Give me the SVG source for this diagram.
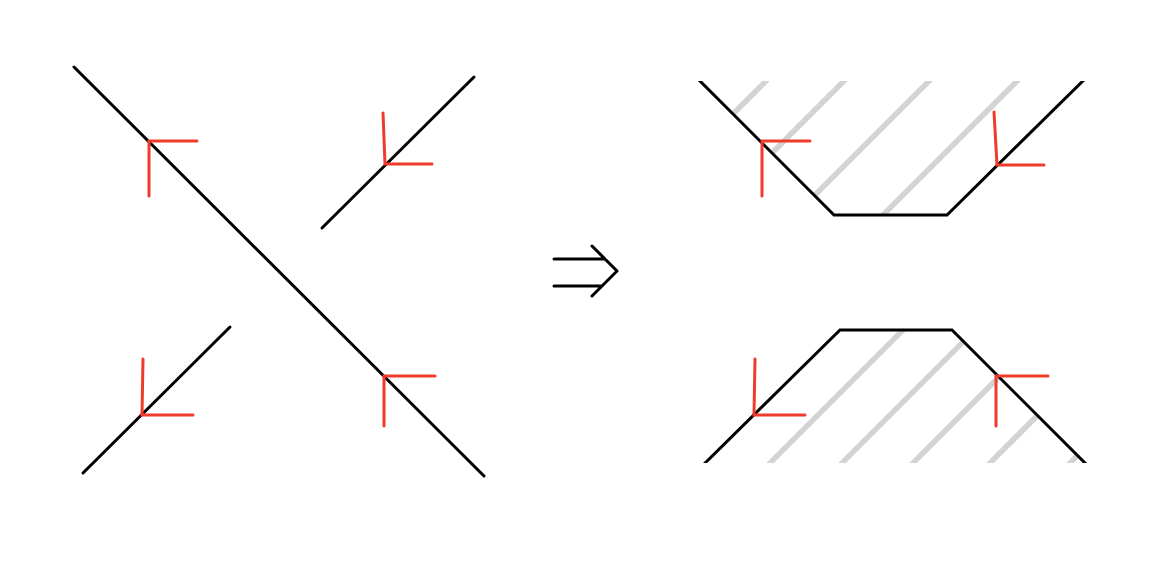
<svg xmlns="http://www.w3.org/2000/svg" width="1166" height="573" viewBox="0 0 1166 573">
  <style>
    .ink { fill: none; stroke: #000000; stroke-width: 3; stroke-linecap: round; stroke-linejoin: round; }
    .cut { fill: none; stroke: #000000; stroke-width: 3; stroke-linecap: butt; stroke-linejoin: miter; }
    .mark { fill: none; stroke: #ee3b2b; stroke-width: 3; stroke-linecap: round; stroke-linejoin: miter; }
    .hatch { fill: none; stroke: #d3d3d3; stroke-width: 5.5; stroke-linecap: butt; }
  </style>
  <defs>
    <clipPath id="upperRegion">
      <polygon points="700,81 834,215 947,215 1083,81"/>
    </clipPath>
    <clipPath id="lowerRegion">
      <polygon points="705,463 840,330 952,330 1085,463"/>
    </clipPath>
    <clipPath id="band">
      <rect x="600" y="81" width="600" height="382"/>
    </clipPath>
  </defs>
  <rect width="1166" height="573" fill="#ffffff"/>

  <g id="crossing">
    <g id="strands" class="connectors">
      <line class="ink" x1="74" y1="67" x2="484" y2="476"/>
      <line class="ink" x1="322" y1="228" x2="474" y2="77"/>
      <line class="ink" x1="83" y1="473" x2="230" y2="327"/>
    </g>
    <g id="crossing-marks">
      <path class="mark" d="M149,196 L149,141 L197,141"/>
      <path class="mark" d="M383,113 L385,164 L432,164"/>
      <path class="mark" d="M143,359 L142,415 L193,415"/>
      <path class="mark" d="M435,376 L384,376 L384,426"/>
    </g>
  </g>

  <g id="implies">
    <path class="ink" d="M554,259 L605,259 M554,286 L602,286 M592,246 L617,271 L592,296"/>
  </g>

  <g id="smoothing">
    <g id="hatching">
      <g clip-path="url(#upperRegion)">
        <line class="hatch" x1="797" y1="50" x2="347" y2="500"/>
        <line class="hatch" x1="875" y1="50" x2="425" y2="500"/>
        <line class="hatch" x1="960" y1="50" x2="510" y2="500"/>
        <line class="hatch" x1="1048" y1="50" x2="598" y2="500"/>
      </g>
      <g clip-path="url(#lowerRegion)">
        <line class="hatch" x1="1183" y1="50" x2="733" y2="500"/>
        <line class="hatch" x1="1255" y1="50" x2="805" y2="500"/>
        <line class="hatch" x1="1326" y1="50" x2="876" y2="500"/>
        <line class="hatch" x1="1403" y1="50" x2="953" y2="500"/>
        <line class="hatch" x1="1483" y1="50" x2="1033" y2="500"/>
      </g>
    </g>
    <g id="smoothed-strands" class="connectors" clip-path="url(#band)">
      <path class="cut" d="M690,71 L834,215 L947,215 L1093,71"/>
      <path class="cut" d="M695,473 L840,330 L952,330 L1095,473"/>
    </g>
    <g id="smoothing-marks">
      <path class="mark" d="M762,196 L762,141 L810,141"/>
      <path class="mark" d="M994,112 L997,165 L1044,165"/>
      <path class="mark" d="M755,359 L754,415 L805,415"/>
      <path class="mark" d="M1048,376 L996,376 L996,426"/>
    </g>
  </g>
</svg>
